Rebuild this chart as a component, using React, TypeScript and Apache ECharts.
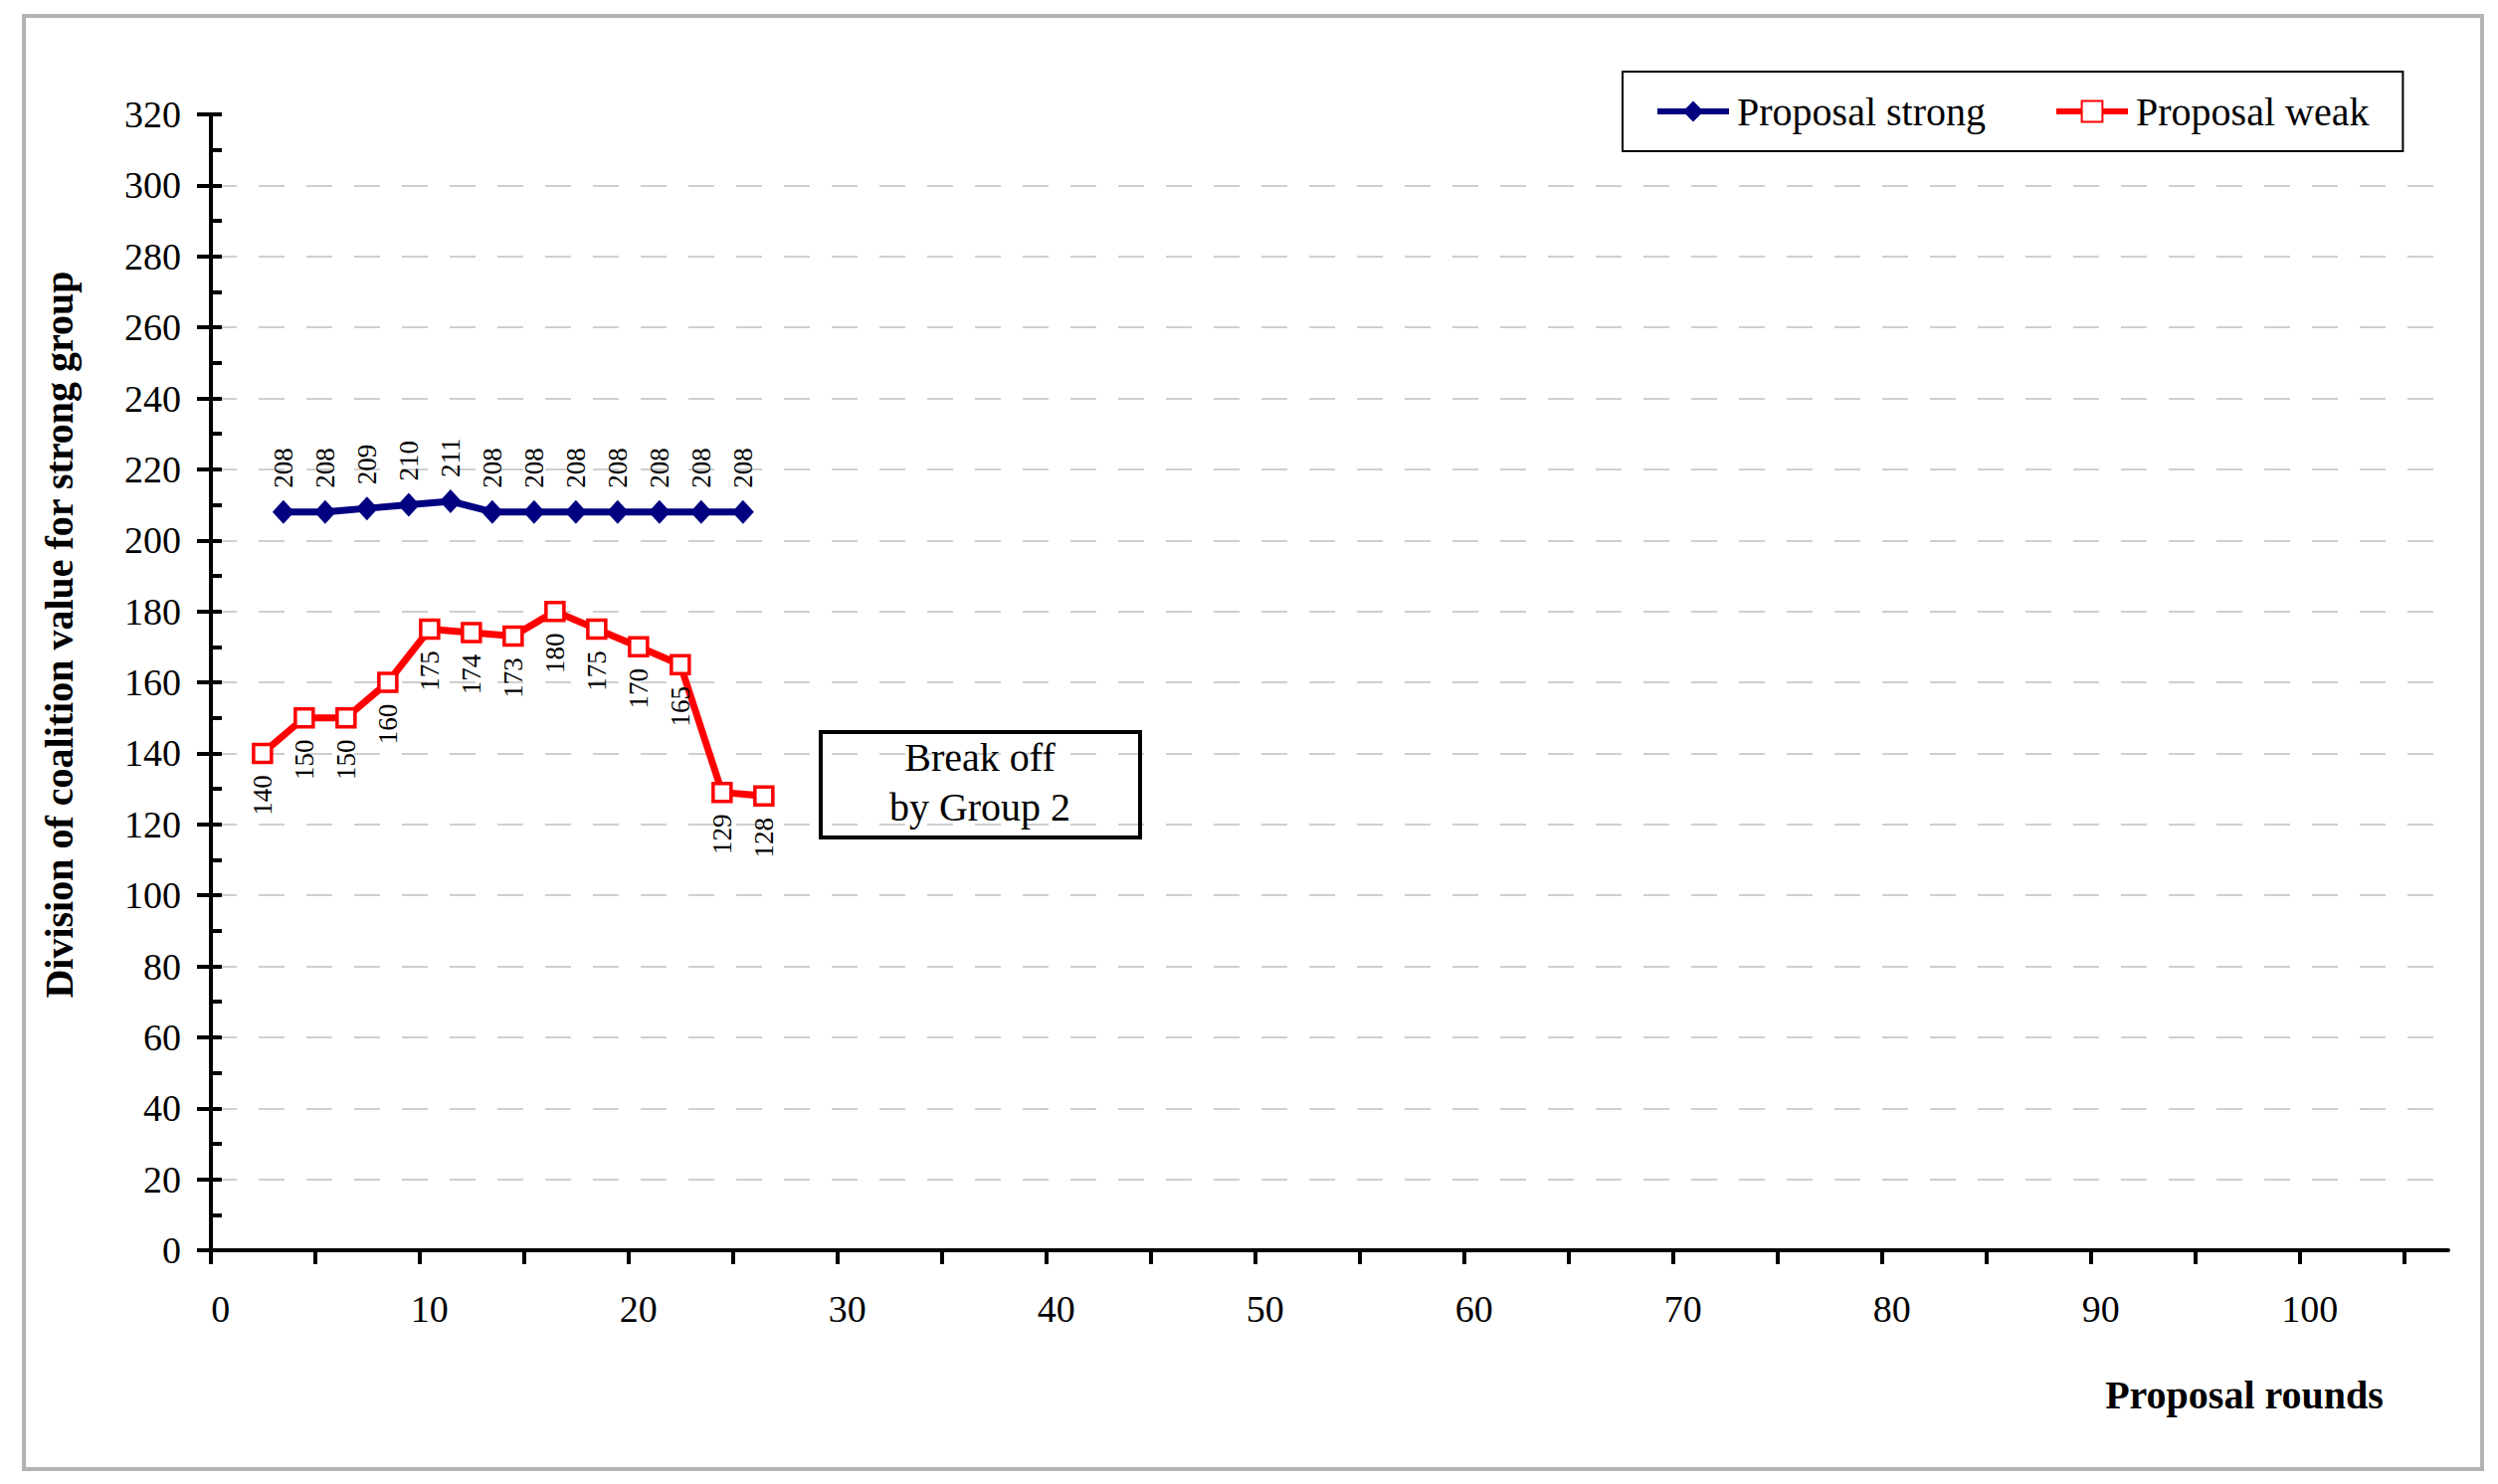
import React, { useEffect, useRef } from "react";
import * as echarts from "echarts";

// ---- data ----
const strongRounds = [3, 5, 7, 9, 11, 13, 15, 17, 19, 21, 23, 25];
const strongValues = [208, 208, 209, 210, 211, 208, 208, 208, 208, 208, 208, 208];
const weakRounds = [2, 4, 6, 8, 10, 12, 14, 16, 18, 20, 22, 24, 26];
const weakValues = [140, 150, 150, 160, 175, 174, 173, 180, 175, 170, 165, 129, 128];
const xLabelValues = [0, 10, 20, 30, 40, 50, 60, 70, 80, 90, 100];
const xTickValues = [0, 5, 10, 15, 20, 25, 30, 35, 40, 45, 50, 55, 60, 65, 70, 75, 80, 85, 90, 95, 100, 105];
const seriesNames = ["Proposal strong", "Proposal weak"];
const yTitle = "Division of coalition value for strong group";
const xTitle = "Proposal rounds";
const noteText = "Break off\nby Group 2";

const FONT = "'Liberation Serif', 'Times New Roman', 'DejaVu Serif', serif";

export default function App() {
  const ref = useRef<HTMLDivElement>(null);
  useEffect(() => {
    if (!ref.current) return;
    const chart = echarts.init(ref.current, null, { renderer: "svg" });
    const strongData = strongRounds.map((r, i) => [r, strongValues[i]]);
    const weakData = weakRounds.map((r, i) => [r, weakValues[i]]);
    const option: any = {
      animation: false,
      backgroundColor: "#ffffff",
      grid: { left: 212, right: 50, top: 115, bottom: 235, containLabel: false },
      legend: {
        data: seriesNames,
        left: 1631,
        top: 72,
        orient: "horizontal",
        padding: [20, 34, 20, 32],
        borderColor: "#000",
        borderWidth: 2,
        itemWidth: 72,
        itemHeight: 26,
        itemGap: 68,
        lineStyle: { width: 6 },
        textStyle: { fontFamily: FONT, fontSize: 40, color: "#000", padding: [0, 0, 0, 3] },
      },
      xAxis: [
        {
          type: "value",
          min: -0.47,
          max: 106.63,
          axisLine: { show: true, onZero: false, lineStyle: { color: "#000", width: 4 } },
          axisTick: { show: false },
          axisLabel: {
            show: true,
            customValues: xLabelValues,
            margin: 40,
            fontFamily: FONT,
            fontSize: 38,
            color: "#000",
          },
          splitLine: { show: false },
        },
        {
          type: "value",
          position: "bottom",
          min: 0,
          max: 107.1,
          axisLine: { show: false },
          axisTick: {
            show: true,
            inside: false,
            length: 14,
            customValues: xTickValues,
            lineStyle: { color: "#000", width: 4 },
          },
          axisLabel: { show: false },
          splitLine: { show: false },
        },
      ],
      yAxis: [
        {
          type: "value",
          min: 0,
          max: 320,
          interval: 20,
          position: "left",
          axisLine: { show: true, onZero: false, lineStyle: { color: "#000", width: 4 } },
          axisTick: { show: true, inside: false, length: 14, lineStyle: { color: "#000", width: 4 } },
          axisLabel: { margin: 30, fontFamily: FONT, fontSize: 38, color: "#000" },
          splitLine: {
            show: true,
            showMinLine: false,
            showMaxLine: false,
            lineStyle: { color: "#cfcfcf", width: 2, type: [26, 22] },
          },
        },
        {
          type: "value",
          min: 0,
          max: 320,
          interval: 10,
          position: "left",
          axisLine: { show: false, onZero: false },
          axisTick: { show: true, inside: true, length: 11, lineStyle: { color: "#000", width: 4 } },
          axisLabel: { show: false },
          splitLine: { show: false },
        },
      ],
      series: [
        {
          name: seriesNames[0],
          type: "line",
          xAxisIndex: 0,
          yAxisIndex: 0,
          data: strongData,
          color: "#000080",
          symbol: "diamond",
          symbolSize: [22, 24],
          lineStyle: { color: "#000080", width: 7 },
          itemStyle: { color: "#000080" },
          label: {
            show: true,
            position: "top",
            distance: 12,
            rotate: 90,
            align: "left",
            verticalAlign: "middle",
            fontFamily: FONT,
            fontSize: 27,
            color: "#000",
          },
          z: 3,
        },
        {
          name: seriesNames[1],
          type: "line",
          xAxisIndex: 0,
          yAxisIndex: 0,
          data: weakData,
          color: "#ff0000",
          symbol: "rect",
          symbolSize: 18,
          lineStyle: { color: "#ff0000", width: 7 },
          itemStyle: { color: "#ffffff", borderColor: "#ff0000", borderWidth: 3.5 },
          label: {
            show: true,
            position: "bottom",
            distance: 11,
            rotate: 90,
            align: "right",
            verticalAlign: "middle",
            fontFamily: FONT,
            fontSize: 27,
            color: "#000",
          },
          z: 3,
        },
      ],
      graphic: [
        {
          type: "rect",
          shape: { x: 24, y: 16, width: 2471, height: 1461 },
          style: { fill: "none", stroke: "#b3b3b3", lineWidth: 4 },
          silent: true,
          z: 0,
        },
        {
          type: "rect",
          shape: { x: 825, y: 736, width: 321, height: 106 },
          style: { fill: "none", stroke: "#000", lineWidth: 4 },
          z: 10,
        },
        {
          type: "text",
          x: 985,
          y: 786,
          style: {
            text: noteText,
            textAlign: "center",
            textVerticalAlign: "middle",
            font: `40px ${FONT}`,
            lineHeight: 50,
            fill: "#000",
          },
          z: 10,
        },
        {
          type: "text",
          x: 59,
          y: 638,
          rotation: Math.PI / 2,
          style: {
            text: yTitle,
            textAlign: "center",
            textVerticalAlign: "middle",
            font: `bold 40px ${FONT}`,
            fill: "#000",
          },
          z: 10,
        },
        {
          type: "text",
          x: 2256,
          y: 1402,
          style: {
            text: xTitle,
            textAlign: "center",
            textVerticalAlign: "middle",
            font: `bold 40px ${FONT}`,
            fill: "#000",
          },
          z: 10,
        },
      ],
    };
    chart.setOption(option);
    return () => chart.dispose();
  }, []);
  return (
    <div
      ref={ref}
      style={{ position: "absolute", left: 0, top: 0, width: 2511, height: 1492, background: "#fff" }}
    />
  );
}
